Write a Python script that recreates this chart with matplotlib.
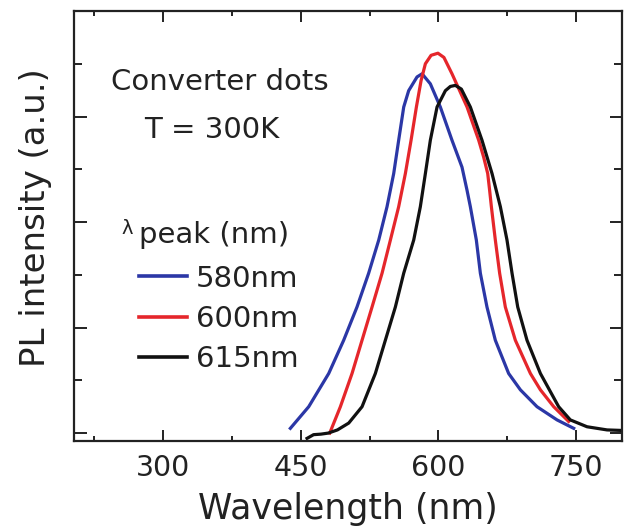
import numpy as np
import matplotlib.pyplot as plt
from matplotlib.ticker import MultipleLocator

# PL spectra (wavelength in nm, intensity in a.u.)
wl_580 = [438.7, 458.7, 480.5, 496.8, 511.3, 524.0, 535.0, 544.0, 551.3, 556.7, 562.2,
          567.6, 576.7, 582.2, 591.2, 602.1, 614.8, 625.7, 631.2, 634.8, 641.3, 645.7,
          652.9, 662.0, 676.5, 689.3, 707.4, 729.2, 747.4]
pl_580 = [0.009, 0.050, 0.113, 0.176, 0.239, 0.303, 0.366, 0.429, 0.492, 0.555, 0.618,
          0.649, 0.675, 0.681, 0.662, 0.618, 0.555, 0.504, 0.460, 0.429, 0.366, 0.303,
          0.239, 0.176, 0.113, 0.082, 0.050, 0.025, 0.009]

wl_600 = [481.6, 493.2, 505.9, 516.8, 527.7, 538.6, 547.7, 556.7, 564.0, 570.2, 576.0,
          581.1, 585.8, 592.0, 599.5, 606.0, 614.8, 631.2, 643.9, 649.3, 653.7, 655.8,
          657.7, 662.0, 666.7, 672.9, 683.8, 700.2, 711.1, 725.6, 741.9]
pl_600 = [0.000, 0.050, 0.113, 0.176, 0.239, 0.303, 0.366, 0.429, 0.492, 0.555, 0.618,
          0.668, 0.700, 0.716, 0.720, 0.712, 0.681, 0.618, 0.555, 0.523, 0.492, 0.460,
          0.429, 0.366, 0.303, 0.239, 0.176, 0.113, 0.082, 0.050, 0.022]

wl_615 = [456.9, 464.0, 472.0, 480.0, 490.0, 502.3, 516.8, 531.3, 542.2, 553.1, 562.2,
          573.1, 580.3, 585.8, 591.2, 598.5, 607.6, 613.0, 618.4, 625.0, 634.8, 647.5,
          658.4, 667.5, 674.7, 680.2, 686.4, 696.5, 711.1, 731.0, 743.7, 761.9, 783.7,
          800.0]
pl_615 = [-0.010, -0.003, -0.002, 0.000, 0.006, 0.019, 0.050, 0.113, 0.176, 0.239, 0.303,
          0.366, 0.429, 0.492, 0.555, 0.618, 0.649, 0.657, 0.659, 0.652, 0.618, 0.555,
          0.492, 0.429, 0.366, 0.303, 0.239, 0.176, 0.113, 0.050, 0.025, 0.012, 0.006,
          0.005]

labels = ['580nm', '600nm', '615nm']
colors = ['#2b37a6', '#e5262b', '#111111']

plt.rcParams['font.family'] = 'DejaVu Sans'
fig = plt.figure(figsize=(6.3, 5.27), dpi=100)
ax = fig.add_axes([74 / 630, 86 / 527, 548 / 630, 430 / 527])

lines = []
for wl, pl, c, lab in zip([wl_580, wl_600, wl_615], [pl_580, pl_600, pl_615], colors, labels):
    ln, = ax.plot(wl, pl, color=c, lw=2.3, label=lab, solid_joinstyle='round')
    lines.append(ln)

ax.set_xlim(203, 800)
ax.set_ylim(-0.015, 0.8)
ax.xaxis.set_major_locator(MultipleLocator(150))
ax.xaxis.set_minor_locator(MultipleLocator(75))
ax.yaxis.set_major_locator(MultipleLocator(0.2))
ax.yaxis.set_minor_locator(MultipleLocator(0.1))
ax.tick_params(which='both', direction='in', top=True, right=True, width=1.4, color='#222222')
ax.tick_params(axis='x', which='major', length=8, labelsize=20.5, pad=9, labelcolor='#222222')
ax.tick_params(axis='x', which='minor', length=3.5)
ax.tick_params(axis='y', which='major', length=9, labelleft=False)
ax.tick_params(axis='y', which='minor', length=5.5)
for s in ax.spines.values():
    s.set_linewidth(1.6)
    s.set_color('#222222')

ax.set_xlabel('Wavelength (nm)', fontsize=25, color='#222222', labelpad=7.5)
ax.set_ylabel('PL intensity (a.u.)', fontsize=24.5, color='#222222')
ax.yaxis.set_label_coords(-0.04, 0.52)

ax.text(0.2664, 0.816, 'Converter dots', transform=ax.transAxes, fontsize=21,
        ha='center', va='baseline', color='#222222')
ax.text(0.2507, 0.704, 'T = 300K', transform=ax.transAxes, fontsize=21,
        ha='center', va='baseline', color='#222222')
ax.text(0.0867, 0.516, 'λ', transform=ax.transAxes, fontsize=14,
        ha='left', va='top', color='#222222')
ax.text(0.119, 0.46, 'peak (nm)', transform=ax.transAxes, fontsize=21,
        ha='left', va='baseline', color='#222222')

leg = ax.legend(handles=lines, loc='upper left', bbox_to_anchor=(0.118, 0.41),
                frameon=False, fontsize=21, handlelength=1.65, handletextpad=0.31,
                labelspacing=0.42, borderpad=0, borderaxespad=0)
for t in leg.get_texts():
    t.set_color('#222222')
for h in leg.legend_handles:
    h.set_linewidth(2.6)

fig.savefig('out.png', dpi=100)
